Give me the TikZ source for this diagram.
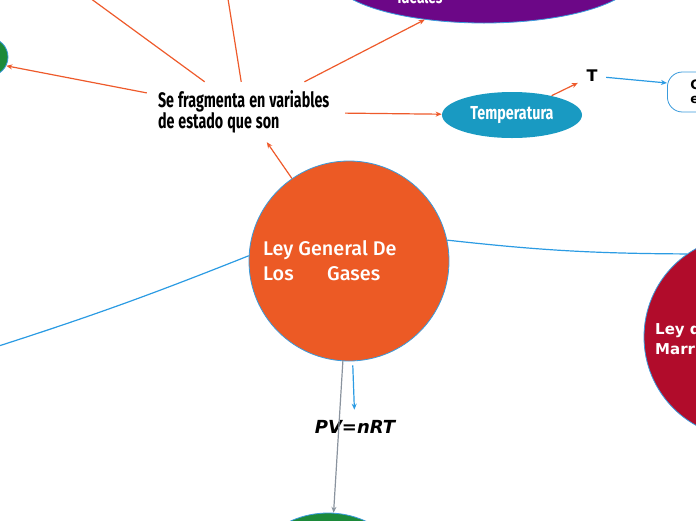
\documentclass[tikz,border=0pt]{standalone}
\usepackage{fontspec}
\setmainfont{Open Sans}
\newfontfamily\mainf{Fira Sans}[UprightFont={* Medium}]
\newfontfamily\condf[FakeStretch=0.76]{Fira Sans}
\newfontfamily\fragf[FakeStretch=0.68]{Fira Sans}
\newfontfamily\dejav{DejaVu Sans}
\usetikzlibrary{arrows.meta,shapes.geometric,calc}
\definecolor{colOrange}{HTML}{EC5A25}
\definecolor{colBord}{HTML}{3A9BDC}
\definecolor{colBlueLine}{HTML}{2B9BE3}
\definecolor{colOLine}{HTML}{EE5A2B}
\definecolor{colPurple}{HTML}{6C0787}
\definecolor{colTemp}{HTML}{199AC2}
\definecolor{colRed}{HTML}{B10C2B}
\definecolor{colGreen}{HTML}{1C8A3A}
\definecolor{colGray}{HTML}{8A939E}
\tikzset{
  bubble/.style={draw=colBord, line width=0.8pt, inner sep=0pt},
  oarr/.style={draw=colOLine, line width=1.2pt, -{Stealth[length=6pt,width=5pt]}},
  oplain/.style={draw=colOLine, line width=1.2pt},
  barr/.style={draw=colBlueLine, line width=1.2pt, -{Stealth[length=6pt,width=5pt]}},
  bplain/.style={draw=colBlueLine, line width=1.2pt},
  garr/.style={draw=colGray, line width=1.2pt, -{Stealth[length=6pt,width=5pt]}},
  whitetxt/.style={text=white, inner sep=0pt},
}
\begin{document}
\begin{tikzpicture}[x=1pt,y=-1pt]
\useasboundingbox (0,0) rectangle (696,520);
\clip (0,0) rectangle (696,520);

% shapes
\node[bubble, circle, fill=colOrange, minimum size=200pt] (main) at (349,261) {};
\node[bubble, circle, fill=colRed, minimum size=202pt] (marr) at (745,337) {};
\node[bubble, circle, fill=colGreen, minimum size=182pt] (green2) at (328,604) {};
\node[bubble, circle, fill=colGreen, minimum size=38pt] (green1) at (-11,57) {};
\node[bubble, ellipse, fill=colPurple, minimum width=306pt, minimum height=96pt] (purple) at (484,-25) {};
\node[bubble, ellipse, fill=colTemp, draw=none, minimum width=140pt, minimum height=46pt] (temp) at (512,115) {};
\node[draw=colBord, line width=0.8pt, rounded corners=15pt, fill=white, minimum width=140pt, minimum height=40pt, anchor=west, text width=117pt, align=left, inner xsep=23pt, font=\dejav\bfseries\fontsize{13pt}{14pt}\selectfont] (cbox) at (667,92) {C\\e};

% texts
\node[whitetxt, anchor=base west, font=\mainf\fontsize{19.8pt}{22pt}\selectfont] (mt1) at (263,255) {Ley General De};
\node[whitetxt, anchor=base west, font=\mainf\fontsize{19.8pt}{22pt}\selectfont] (mt2) at (263,280) {\makebox[64pt][l]{Los}Gases};
\node[minimum width=198pt, minimum height=60pt, text width=176pt, inner xsep=11pt, align=left, font=\fragf\bfseries\fontsize{21pt}{20pt}\selectfont] (frag) at (246,112) {\spaceskip=4pt\mbox{Se fragmenta en variables}\\\mbox{de estado que son}};
\node[whitetxt, font=\condf\bfseries\fontsize{18.8pt}{20pt}\selectfont] (templ) at (512,115) {Temperatura};
\node[whitetxt, anchor=base, font=\condf\bfseries\fontsize{18pt}{20pt}\selectfont] (ideal) at (420,3) {ideales};
\node[minimum width=28pt, minimum height=20pt, inner sep=0pt, font=\dejav\bfseries\fontsize{16pt}{18pt}\selectfont] (T) at (592,76) {T};
\node[whitetxt, anchor=base west, align=left, font=\dejav\bfseries\fontsize{15pt}{19pt}\selectfont] (marrt) at (655,334) {Ley de};
\node[whitetxt, anchor=base west, align=left, font=\dejav\bfseries\fontsize{15pt}{19pt}\selectfont] (marrt2) at (655,354) {Marriotte};
\node[anchor=base, inner ysep=10pt, inner xsep=2pt, font=\dejav\bfseries\itshape\fontsize{18pt}{20pt}\selectfont] (pv) at (355,433) {PV=nRT};

% free ends
\coordinate (tl1) at (79,-10);
\coordinate (tl2) at (226.6,-10);
\coordinate (lfar) at (-20,352);

% connectors
\draw[oarr] (main) -- (frag);
\draw[oarr] (frag) -- (green1.333);
\draw[oplain] (frag) -- (tl1);
\draw[oplain] (frag) -- (tl2);
\draw[oarr] (frag) -- (purple.217);
\draw[oarr] (frag) -- (temp);
\draw[oarr] (temp) -- (T);
\draw[barr] (T) -- ([yshift=9pt]cbox.west);
\draw[bplain] (main.12) to[bend right=3] (marr.125);
\draw[bplain] (main.177) to[bend left=2] (lfar);
\draw[barr, shorten <=4pt] (main) -- (pv);
\draw[garr] (main) -- (green2);
\end{tikzpicture}
\end{document}
